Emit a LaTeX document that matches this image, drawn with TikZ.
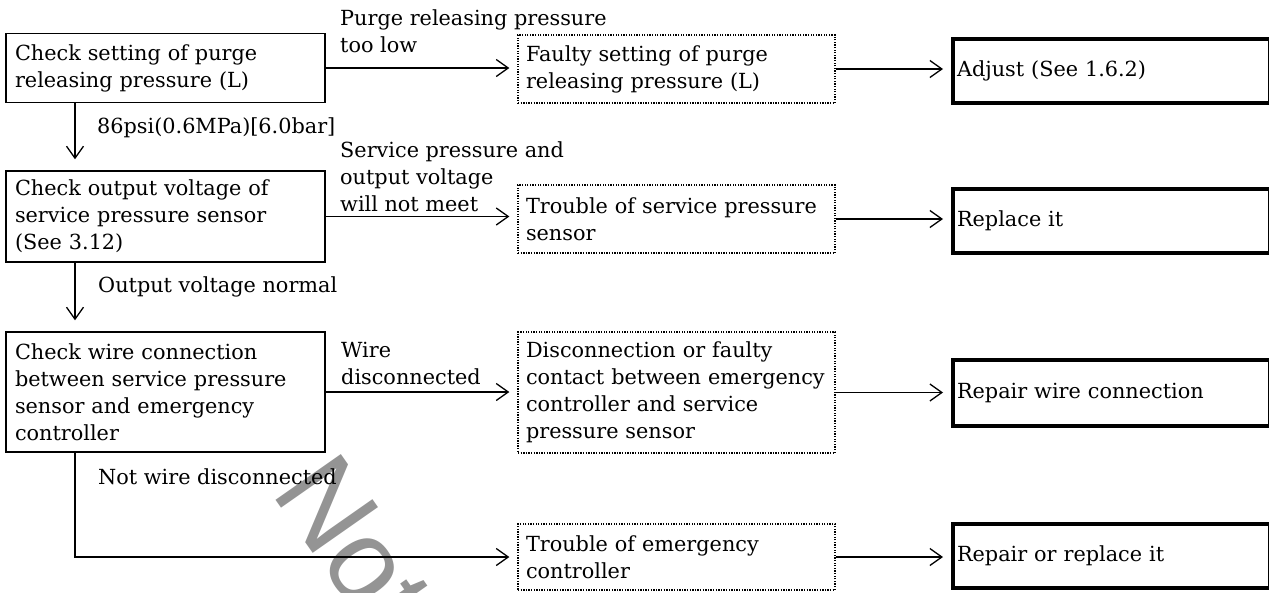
\documentclass[tikz,border=0pt]{standalone}
\usepackage{fontspec}
\setmainfont{DejaVu Serif}
\newfontfamily\wmfont{Liberation Sans}
\usetikzlibrary{arrows.meta}
\begin{document}
\begin{tikzpicture}[x=1pt,y=-1pt,
  every node/.style={font=\fontsize{20.8}{27}\selectfont},
  chkbox/.style={draw,line width=1.4pt,inner xsep=9pt,inner ysep=0pt,text width=301pt,align=left,minimum height=#1},
  faultbox/.style={draw,line width=1.3pt,dash pattern=on 1.3pt off 1.3pt,inner xsep=8pt,inner ysep=0pt,text width=301pt,align=left,minimum height=#1},
  actbox/.style={draw,line width=4pt,inner xsep=4pt,inner ysep=0pt,text width=309pt,align=left,minimum height=#1},
  arr/.style={line width=1.3pt,-{Straight Barb[length=12pt,width=17pt,line width=1.3pt]},shorten >=8pt},
  lab/.style={align=left,inner sep=0pt,anchor=west},
  wm/.style={font=\wmfont\fontsize{116}{116}\selectfont,text=black!42,inner sep=0pt}]
\useasboundingbox (0,0) rectangle (1269,592);
\clip (0,0) rectangle (1269,592);
\node[wm,rotate=-55,anchor=base west] (W) at (270,492) {Not};
\node[chkbox=69pt] (A) at (165.5,68) {Check setting of purge\\releasing pressure (L)};
\node[chkbox=91pt] (B) at (165.5,216.5) {Check output voltage of\\service pressure sensor\\(See 3.12)};
\node[chkbox=120pt] (C) at (165.5,392) {Check wire connection\\between service pressure\\sensor and emergency\\controller};
\node[faultbox=68pt] (F1) at (676.5,69) {Faulty setting of purge\\releasing pressure (L)};
\node[faultbox=68pt] (F2) at (676.5,219) {\mbox{Trouble of service pressure}\\sensor};
\node[faultbox=121pt] (F3) at (676.5,392.5) {Disconnection or faulty\\\mbox{contact between emergency}\\controller and service\\pressure sensor};
\node[faultbox=66pt] (F4) at (676.5,557) {Trouble of emergency\\controller};
\node[actbox=64pt] (R1) at (1111.5,71) {Adjust (See 1.6.2)};
\node[actbox=64pt] (R2) at (1111.5,221) {Replace it};
\node[actbox=66pt] (R3) at (1111.5,393) {Repair wire connection};
\node[actbox=64pt] (R4) at (1111.5,556) {Repair or replace it};
\node[lab] (L1) at (340,31.5) {Purge releasing pressure\\too low};
\node[lab] (L2) at (97,128) {86psi(0.6MPa)[6.0bar]};
\node[lab] (L3) at (340,177) {Service pressure and\\output voltage\\will not meet};
\node[lab] (L4) at (98,287) {Output voltage normal};
\node[lab] (L5) at (341,363.5) {Wire\\disconnected};
\node[lab] (L6) at (98,477) {Not wire disconnected};
\draw[arr] (A.east) -- (A.east -| F1.west);
\draw[arr] (B.east) -- (B.east -| F2.west);
\draw[arr] (C.east) -- (C.east -| F3.west);
\draw[arr] (F1.east) -- (F1.east -| R1.west);
\draw[arr] (F2.east) -- (F2.east -| R2.west);
\draw[arr] (F3.east) -- (F3.east -| R3.west);
\draw[arr] (F4.east) -- (F4.east -| R4.west);
\draw[arr,shorten >=11pt] ([xshift=-90.5pt]A.south) -- ([xshift=-90.5pt]B.north);
\draw[arr,shorten >=11pt] ([xshift=-90.5pt]B.south) -- ([xshift=-90.5pt]C.north);
\draw[arr] ([xshift=-90.5pt]C.south) |- (F4.west);
\end{tikzpicture}
\end{document}
